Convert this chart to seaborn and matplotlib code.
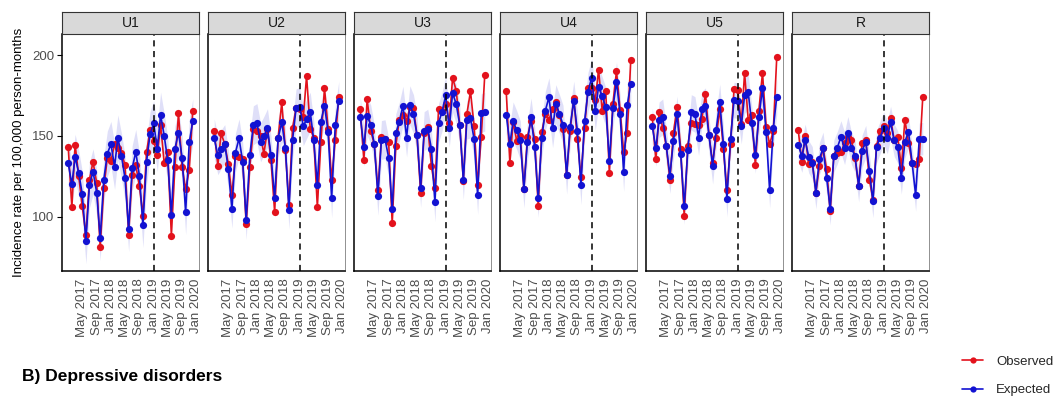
import numpy as np
import pandas as pd
import matplotlib
matplotlib.use("Agg")
import matplotlib.pyplot as plt
import matplotlib.dates as mdates
from matplotlib.lines import Line2D
import seaborn as sns

sns.set_theme(style="white")
plt.rcParams['font.family'] = ['Liberation Sans', 'DejaVu Sans']

panels = ["U1", "U2", "U3", "U4", "U5", "R"]
months = pd.date_range("2017-01-01", periods=36, freq="MS")
tick_dates = pd.date_range("2017-05-01", "2020-01-01", freq="4MS")
intervention = pd.Timestamp("2019-01-01")

obs_U1 = [143, 106, 144.6, 125, 106.4, 89, 123, 134, 121, 81.5, 117.6, 136.5,
          134.4, 145, 142.7, 139.6, 132, 89, 126, 132, 119, 100.6, 140, 153.5,
          147, 138, 157, 133, 140, 88.4, 130.7, 164, 131, 117, 129, 165.5]
exp_U1 = [133, 120, 137, 127, 114, 85, 119.5, 128, 115, 87, 123, 139,
          145, 131, 149, 137.5, 124, 92.5, 130, 140, 125.5, 95, 134, 151,
          157.7, 142, 163, 150, 135, 101, 142, 152, 136.5, 103, 146, 159]

obs_U2 = [153, 131.7, 151.5, 145, 132.8, 113.7, 137.6, 137, 135.5, 95.4, 131, 154,
          153, 150, 139, 154, 135, 103, 149, 170.7, 141.3, 107.5, 155, 167,
          166.6, 161.4, 187, 154.5, 149, 106, 146, 179.5, 154.5, 123, 147.3, 174]
exp_U2 = [148.5, 138, 141.7, 145, 129.7, 105, 139.6, 148.5, 134, 98, 138, 156.6,
          158, 146, 150, 154.8, 138, 111.6, 148.8, 158.3, 142.7, 104.4, 147.3, 167,
          168, 156, 160.4, 165, 147.3, 119.5, 158.7, 168.7, 152.5, 111.4, 156.6, 171.8]

obs_U3 = [166.6, 135, 172.8, 153, 145, 116.4, 149.6, 148, 146, 96, 144, 160,
          163, 159, 167.6, 167, 150.4, 114.7, 151.5, 155.8, 131.3, 117.8, 166.6, 165.6,
          169.7, 158, 186, 178, 156.8, 122.4, 163.5, 177.6, 156, 119.5, 149.4, 187.8]
exp_U3 = [162, 143.4, 162.4, 157, 145, 113, 147.5, 148, 136.5, 104.8, 151.7, 158.7,
          168.7, 149, 169, 163.5, 150.6, 117.8, 153, 154.5, 142, 109, 158, 165,
          175, 155, 176.5, 169.7, 157, 122.6, 160, 160.8, 148, 113.5, 164, 165]

obs_U4 = [177.6, 133.4, 158.7, 146.9, 150, 117.4, 149.4, 159.3, 148.3, 106.8, 152.5, 163.5,
          160, 166.6, 171, 162.9, 154, 126, 153, 173.4, 148, 124.5, 155, 179.5,
          179.7, 172.2, 191, 165.6, 178, 127.2, 169.7, 190, 166, 140, 152, 197]
exp_U4 = [163, 145, 159, 153.5, 147.3, 117.4, 146.5, 161.4, 143.4, 111.6, 149, 165.6,
          173.9, 154.8, 169.7, 163.5, 157, 126, 155.8, 171.8, 153, 119.5, 159, 177.4,
          186, 165.6, 180.5, 174.5, 168, 134.4, 167.2, 183.6, 163.5, 127.6, 169.3, 182]

obs_U5 = [161.8, 135.5, 165, 155, 143.8, 123, 152, 167.6, 142, 100.8, 144, 157.7,
          157.3, 156.6, 160.4, 176, 150.4, 133.4, 149, 166.6, 142, 116.4, 144.8, 179,
          178.4, 157.3, 189, 160, 162.9, 132, 165.6, 189, 155.8, 144.8, 153, 198.8]
exp_U5 = [156, 142.3, 160, 161.8, 143.8, 125.5, 146.9, 163.5, 139, 106.4, 141.3, 164.5,
          163.3, 149, 166.6, 168.7, 150.4, 131.3, 153.7, 171, 145.2, 111, 148, 172.2,
          171.8, 156, 175, 177, 157.7, 138, 161.4, 179.5, 152.5, 116.4, 154.6, 174.3]

obs_R = [153.5, 134, 150, 132.4, 134, 115, 131.3, 142.7, 129.3, 103.3, 137.5, 139.2,
         140, 145.4, 149.6, 147.3, 136.5, 119.3, 145.9, 147.3, 123, 110.6, 143.8, 153,
         156.2, 152, 160.8, 147.3, 149.6, 130.3, 160, 145.9, 133, 132.4, 135.9, 174]
exp_R = [144.4, 137.5, 147.3, 137, 133.4, 115, 136, 142.3, 124, 105, 137.5, 142.7,
         149.4, 142.3, 152, 142.3, 137.5, 119.3, 140.7, 146.5, 128.6, 109.5, 143.2, 149,
         154.8, 149, 158.3, 147.3, 143.2, 124, 146.3, 152.7, 133.4, 113.5, 148, 148.3]

# approximate half-width of the expected-value band per panel
band_halfwidth = [14, 12, 12, 12, 11, 10]

observed = [obs_U1, obs_U2, obs_U3, obs_U4, obs_U5, obs_R]
expected = [exp_U1, exp_U2, exp_U3, exp_U4, exp_U5, exp_R]

rows = []
for p, o, e in zip(panels, observed, expected):
    for d, ov, ev in zip(months, o, e):
        rows.append({"panel": p, "date": d, "Observed": ov, "Expected": ev})
df = pd.DataFrame(rows)

RED = "#E3121C"
BLUE = "#1212D2"
BAND = "#DCDCF8"
GREY_TXT = "#4D4D4D"

W, H = 1056, 398
fig = plt.figure(figsize=(W / 100, H / 100), dpi=100)

def fa(x, y, w, h):
    return [x / W, 1 - (y + h) / H, w / W, h / H]

x0 = mdates.date2num(months[0])
x1 = mdates.date2num(months[-1])
pad = 0.05 * (x1 - x0)

for i, p in enumerate(panels):
    left = 62 + i * 146
    ax = fig.add_axes(fa(left, 34, 137, 237))
    sub = df[df.panel == p]
    hw = band_halfwidth[i]
    ax.fill_between(sub["date"], sub["Expected"] - hw, sub["Expected"] + hw,
                    color=BAND, alpha=0.9, linewidth=0, zorder=1)
    sns.lineplot(data=sub, x="date", y="Observed", color=RED, marker="o",
                 markersize=5.2, markeredgewidth=0, linewidth=1.2, ax=ax, zorder=2)
    sns.lineplot(data=sub, x="date", y="Expected", color=BLUE, marker="o",
                 markersize=5.2, markeredgewidth=0, linewidth=1.2, ax=ax, zorder=3)
    ax.axvline(intervention, color="black", linestyle=(0, (4, 3)), linewidth=1.1, zorder=4)
    ax.set_xlim(x0 - pad, x1 + pad)
    ax.set_ylim(66.5, 213)
    ax.set_xlabel("")
    ax.set_ylabel("")
    ax.set_xticks(tick_dates)
    ax.xaxis.set_major_formatter(mdates.DateFormatter("%b %Y"))
    ax.tick_params(axis="x", rotation=90, labelsize=9.5, colors="black",
                   labelcolor=GREY_TXT, length=3.5, width=0.8, pad=2)
    ax.set_yticks([100, 150, 200])
    if i == 0:
        ax.tick_params(axis="y", labelsize=9.5, labelcolor=GREY_TXT, colors="black",
                       length=3.5, width=0.8, pad=2, left=True)
    else:
        ax.tick_params(axis="y", labelleft=False, left=False)
    ax.grid(False)
    for s in ["top", "right"]:
        ax.spines[s].set_color("#7F7F7F")
        ax.spines[s].set_linewidth(0.6)
    for s in ["left", "bottom"]:
        ax.spines[s].set_color("black")
        ax.spines[s].set_linewidth(1.1)
    # strip
    sax = fig.add_axes(fa(left, 12, 137, 22))
    sax.set_xticks([]); sax.set_yticks([])
    sax.set_facecolor("#D9D9D9")
    for s in sax.spines.values():
        s.set_color("#333333")
        s.set_linewidth(0.8)
    sax.text(0.5, 0.5, p, ha="center", va="center", fontsize=10, color="#1A1A1A",
             transform=sax.transAxes)

fig.text(19 / W, 1 - 152 / H, "Incidence rate per 100,000 person-months",
         rotation=90, ha="center", va="center", fontsize=9.5, color="black")
fig.text(22 / W, 1 - 376 / H, "B) Depressive disorders", ha="left", va="center",
         fontsize=12.5, fontweight="bold", color="black")

handles = [Line2D([], [], color=RED, marker="o", markersize=4.5, markeredgewidth=0, linewidth=1.2),
           Line2D([], [], color=BLUE, marker="o", markersize=4.5, markeredgewidth=0, linewidth=1.2)]
fig.legend(handles, ["Observed", "Expected"], loc="center left",
           bbox_to_anchor=(962 / W, 1 - 376 / H), frameon=False, fontsize=9.5,
           handlelength=1.6, handletextpad=1.0, labelspacing=1.2, borderaxespad=0,
           borderpad=0)

fig.savefig("out.png", dpi=100)
